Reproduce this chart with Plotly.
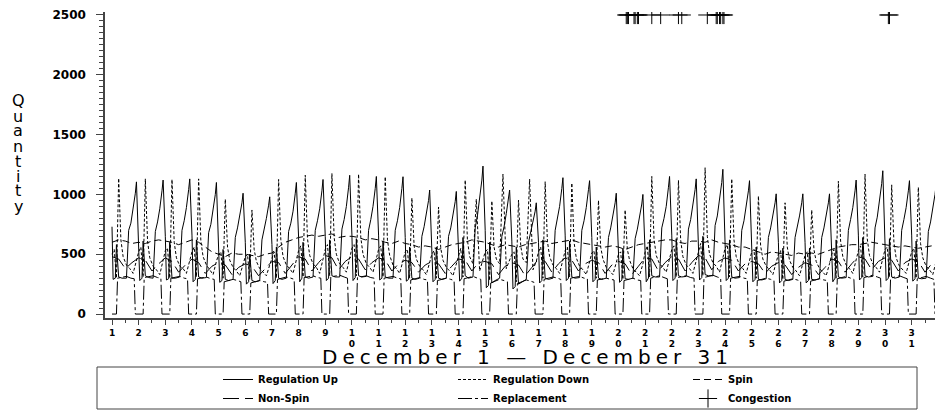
import plotly.graph_objects as go

# Hourly ancillary service quantities, December 1 - December 31
# (a few hours per day)
days = list(range(1, 32))

up_hours = [0, 1, 3, 4, 6, 9, 13, 15, 17, 19, 21, 22]
regulation_up = [
    [730, 290, 300, 580, 310, 300, 300, 700, 760, 870, 1010, 1105],
    [640, 280, 300, 610, 320, 305, 300, 690, 770, 880, 1030, 1120],
    [650, 285, 295, 600, 300, 300, 310, 700, 780, 890, 1040, 1130],
    [660, 270, 290, 620, 310, 300, 305, 680, 750, 860, 1000, 1100],
    [620, 265, 280, 540, 290, 280, 290, 640, 720, 820, 930, 1010],
    [600, 250, 270, 500, 280, 270, 280, 620, 700, 800, 910, 980],
    [580, 255, 280, 560, 300, 290, 300, 690, 760, 860, 1010, 1100],
    [640, 270, 300, 600, 310, 300, 310, 700, 780, 880, 1030, 1125],
    [650, 280, 300, 620, 320, 310, 310, 710, 790, 900, 1060, 1160],
    [660, 280, 305, 630, 320, 310, 315, 700, 790, 900, 1050, 1150],
    [660, 285, 300, 610, 310, 300, 300, 700, 780, 890, 1050, 1148],
    [640, 275, 290, 560, 300, 290, 300, 650, 730, 830, 950, 1037],
    [600, 270, 290, 560, 300, 290, 300, 650, 720, 820, 940, 1025],
    [590, 275, 300, 640, 320, 300, 310, 720, 820, 950, 1120, 1237],
    [700, 220, 240, 600, 260, 280, 300, 650, 730, 840, 960, 1037],
    [610, 210, 230, 560, 250, 270, 290, 600, 680, 760, 860, 930],
    [600, 260, 280, 620, 300, 290, 300, 700, 790, 900, 1050, 1140],
    [660, 280, 300, 610, 310, 300, 305, 700, 780, 890, 1040, 1115],
    [640, 270, 290, 560, 300, 290, 300, 640, 720, 820, 930, 1010],
    [600, 265, 285, 550, 295, 290, 300, 630, 710, 810, 920, 1000],
    [590, 270, 300, 620, 320, 310, 310, 720, 800, 900, 1060, 1150],
    [660, 280, 300, 630, 320, 310, 315, 710, 790, 900, 1040, 1130],
    [650, 285, 305, 650, 330, 320, 320, 740, 820, 940, 1100, 1210],
    [690, 280, 300, 620, 310, 300, 305, 700, 780, 890, 1030, 1115],
    [640, 270, 290, 560, 290, 285, 295, 640, 720, 820, 930, 1005],
    [600, 260, 280, 550, 290, 280, 290, 640, 720, 820, 930, 1005],
    [600, 260, 280, 550, 290, 285, 295, 640, 720, 820, 930, 1005],
    [600, 270, 300, 620, 310, 300, 305, 700, 790, 890, 1030, 1120],
    [660, 285, 305, 640, 320, 310, 315, 720, 810, 930, 1090, 1198],
    [690, 280, 300, 630, 310, 300, 310, 700, 790, 890, 1030, 1115],
    [660, 275, 295, 610, 300, 295, 300, 690, 770, 870, 1000, 1080],
]

down_hours = [0, 2, 4, 5, 6, 8, 10, 13, 16, 19, 22]
regulation_down = [
    [500, 540, 300, 700, 1135, 620, 480, 410, 380, 340, 440],
    [520, 560, 310, 720, 1130, 610, 470, 400, 370, 330, 450],
    [530, 550, 300, 710, 1125, 600, 470, 400, 380, 340, 460],
    [520, 560, 310, 720, 1130, 610, 480, 410, 370, 330, 440],
    [500, 520, 300, 640, 960, 560, 450, 390, 360, 320, 420],
    [480, 500, 290, 600, 870, 540, 440, 380, 350, 320, 410],
    [470, 520, 300, 720, 1125, 620, 480, 410, 380, 340, 450],
    [530, 570, 310, 740, 1160, 630, 490, 420, 390, 340, 460],
    [540, 580, 320, 750, 1175, 640, 500, 420, 390, 350, 470],
    [550, 580, 320, 750, 1170, 640, 500, 420, 390, 350, 460],
    [540, 570, 310, 740, 1148, 620, 490, 410, 380, 340, 450],
    [520, 540, 300, 650, 970, 570, 460, 400, 370, 330, 430],
    [500, 530, 300, 620, 895, 550, 450, 390, 360, 320, 420],
    [500, 550, 310, 730, 1120, 620, 480, 420, 960, 360, 460],
    [520, 540, 280, 640, 945, 560, 460, 420, 1170, 380, 450],
    [500, 520, 270, 650, 953, 570, 460, 430, 1128, 370, 440],
    [520, 560, 300, 720, 1106, 610, 480, 410, 380, 340, 450],
    [530, 560, 310, 710, 1095, 600, 470, 400, 370, 330, 440],
    [510, 530, 300, 640, 950, 560, 460, 390, 360, 330, 430],
    [500, 520, 290, 610, 870, 540, 450, 380, 350, 320, 420],
    [520, 570, 310, 740, 1150, 630, 490, 420, 390, 350, 460],
    [540, 570, 310, 730, 1118, 620, 480, 410, 380, 340, 450],
    [540, 590, 320, 780, 1223, 650, 500, 430, 400, 350, 470],
    [550, 580, 310, 740, 1130, 620, 480, 410, 380, 340, 450],
    [520, 540, 300, 650, 987, 570, 460, 400, 370, 330, 430],
    [500, 530, 290, 630, 930, 560, 450, 390, 360, 320, 420],
    [490, 520, 290, 610, 870, 540, 440, 380, 350, 320, 420],
    [500, 540, 300, 720, 1110, 610, 480, 410, 380, 340, 450],
    [530, 570, 310, 750, 1170, 630, 490, 420, 390, 350, 460],
    [540, 560, 310, 710, 1080, 600, 470, 400, 370, 340, 450],
    [520, 550, 300, 700, 1060, 590, 470, 400, 370, 330, 440],
]

reserve_hours = [0, 6, 12, 18]
spin = [
    [600, 620, 610, 590], [600, 590, 610, 620], [610, 600, 580, 600],
    [620, 600, 560, 520], [500, 480, 510, 500], [500, 490, 480, 500],
    [510, 560, 600, 620], [640, 650, 660, 650], [660, 670, 640, 650],
    [650, 640, 620, 630], [620, 600, 590, 610], [590, 580, 560, 570],
    [560, 540, 560, 580], [590, 600, 620, 610], [600, 580, 560, 580],
    [570, 560, 580, 590], [600, 610, 590, 600], [610, 620, 600, 590],
    [580, 570, 560, 570], [560, 540, 560, 580], [590, 600, 610, 620],
    [620, 600, 590, 610], [610, 600, 620, 600], [590, 580, 560, 560],
    [540, 520, 500, 520], [510, 500, 490, 510], [500, 510, 500, 520],
    [540, 560, 570, 580], [580, 590, 600, 590], [580, 570, 560, 570],
    [560, 550, 560, 570],
]
non_spin = [
    [480, 460, 380, 430], [470, 450, 360, 420], [470, 440, 350, 410],
    [460, 430, 340, 400], [430, 410, 330, 390], [420, 400, 320, 380],
    [440, 430, 340, 410], [480, 460, 360, 430], [490, 470, 370, 440],
    [480, 460, 370, 430], [470, 450, 360, 420], [450, 430, 350, 410],
    [440, 420, 340, 400], [460, 450, 360, 430], [440, 420, 330, 400],
    [430, 410, 320, 390], [460, 440, 350, 420], [470, 450, 360, 420],
    [450, 430, 340, 410], [440, 420, 330, 400], [470, 460, 360, 430],
    [480, 460, 360, 430], [490, 470, 370, 440], [470, 450, 360, 420],
    [440, 420, 340, 400], [430, 410, 330, 390], [430, 410, 330, 390],
    [460, 440, 350, 420], [480, 460, 370, 440], [470, 450, 360, 430],
    [460, 440, 350, 420],
]

repl_hours = [0, 4, 5, 9, 13, 17, 20, 21]
replacement = [
    [0, 0, 300, 305, 315, 300, 295, 0], [0, 0, 305, 310, 320, 305, 300, 0],
    [0, 0, 300, 310, 315, 300, 295, 0], [0, 0, 295, 300, 310, 295, 290, 0],
    [0, 0, 270, 280, 290, 280, 270, 0], [0, 0, 260, 270, 280, 270, 265, 0],
    [0, 0, 290, 300, 310, 300, 290, 0], [0, 0, 305, 310, 320, 305, 300, 0],
    [0, 0, 310, 315, 325, 310, 300, 0], [0, 0, 305, 315, 320, 305, 300, 0],
    [0, 0, 300, 310, 315, 300, 295, 0], [0, 0, 285, 295, 305, 290, 285, 0],
    [0, 0, 280, 290, 300, 290, 280, 0], [0, 0, 295, 305, 315, 300, 290, 0],
    [0, 0, 260, 275, 290, 280, 270, 0], [0, 0, 255, 270, 285, 275, 265, 0],
    [0, 0, 290, 300, 310, 300, 290, 0], [0, 0, 300, 310, 315, 300, 295, 0],
    [0, 0, 285, 295, 300, 290, 285, 0], [0, 0, 280, 290, 300, 285, 280, 0],
    [0, 0, 300, 310, 320, 305, 295, 0], [0, 0, 305, 315, 320, 305, 300, 0],
    [0, 0, 305, 315, 325, 310, 300, 0], [0, 0, 300, 310, 315, 300, 295, 0],
    [0, 0, 280, 290, 300, 290, 280, 0], [0, 0, 275, 285, 295, 285, 275, 0],
    [0, 0, 275, 285, 295, 285, 280, 0], [0, 0, 295, 305, 315, 300, 290, 0],
    [0, 0, 305, 315, 325, 310, 300, 0], [0, 0, 300, 310, 320, 305, 295, 0],
    [0, 0, 295, 305, 315, 300, 290, 0],
]

# hours with congestion, drawn as a row of plus signs at the top
congestion_day = [20, 20, 20, 20, 20, 20, 20, 21, 21, 22, 22,
                  23, 23, 23, 23, 23, 23, 23, 30, 30]
congestion_hour = [7, 8, 9, 14, 15, 17, 18, 6, 14, 6, 9,
                   8, 16, 17, 19, 20, 22, 23, 3, 4]
congestion_level = 2500

tick_days = list(range(1, 33))
tick_text = [str(d) if d < 10 else "<br>".join(str(d)) for d in tick_days]
y_ticks = [0, 500, 1000, 1500, 2000, 2500]


def to_xy(hours, rows):
    xs, ys = [], []
    for d, row in zip(days, rows):
        for h, v in zip(hours, row):
            xs.append(d + h / 24)
            ys.append(v)
    return xs, ys


series = [
    ("Regulation Up", up_hours, regulation_up, "solid"),
    ("Regulation Down", down_hours, regulation_down, "3px,2px"),
    ("Spin", reserve_hours, spin, "7px,4px"),
    ("Non-Spin", reserve_hours, non_spin, "16px,6px"),
    ("Replacement", repl_hours, replacement, "14px,3px,3px,3px"),
]

fig = go.Figure()
for name, hours, rows, dash in series:
    xs, ys = to_xy(hours, rows)
    fig.add_trace(go.Scatter(x=xs, y=ys, mode="lines", name=name,
                             line=dict(color="black", width=1, dash=dash)))

fig.add_trace(go.Scatter(
    x=[d + h / 24 for d, h in zip(congestion_day, congestion_hour)],
    y=[congestion_level] * len(congestion_day),
    mode="markers", name="Congestion",
    marker=dict(symbol="cross-thin", size=13, color="black",
                line=dict(color="black", width=1)),
))

axis_color = "#444444"

fig.update_xaxes(
    range=[0.737, 32.1], tickmode="array", tickvals=tick_days, ticktext=tick_text,
    ticks="outside", ticklen=5, tickwidth=1, tickcolor=axis_color,
    showline=True, linecolor=axis_color, linewidth=1.5, automargin=False,
    showgrid=False, zeroline=False, ticklabeloverflow="allow",
    tickfont=dict(family="DejaVu Sans", size=9, color="black", weight="bold"),
    minor=dict(ticks="outside", ticklen=3, tickcolor=axis_color, tick0=1, dtick=0.5),
)
fig.update_yaxes(
    range=[-33, 2525], tickmode="array", tickvals=y_ticks,
    ticks="outside", ticklen=7, tickwidth=1, tickcolor=axis_color,
    showline=True, linecolor=axis_color, linewidth=1.5, automargin=False,
    showgrid=False, zeroline=False, ticklabelstandoff=8,
    tickfont=dict(family="DejaVu Sans", size=12, color="black", weight="bold"),
    minor=dict(ticks="outside", ticklen=4, tickcolor=axis_color, tick0=0, dtick=50),
)

# the page puts the figure 8 px in from the top-left corner;
# on screen the plot area spans 105..941 px across and 12..318 px down
PAGE = 8
FIG_W, FIG_H = 943, 411
W0, W = 105, 836
H0, H = 12, 306


def px(x):
    return (x - W0) / W


def py(y):
    return (H0 + H - y) / H


annotations = [dict(
    x=px(527), y=py(357), xref="paper", yref="paper", showarrow=False,
    text='<span style="letter-spacing:5px">December 1 — December 31</span>',
    font=dict(family="DejaVu Sans", size=20, color="black"),
    xanchor="center", yanchor="middle",
)]
for i, ch in enumerate("Quantity"):
    annotations.append(dict(
        x=px(18), y=py(101 + 15 * i), xref="paper", yref="paper", showarrow=False,
        text=ch, font=dict(family="DejaVu Sans", size=16, color="black"),
        xanchor="center", yanchor="middle",
    ))

fig.update_layout(
    width=FIG_W, height=FIG_H,
    margin=dict(l=W0 - PAGE, r=FIG_W - (W0 - PAGE) - W, t=H0 - PAGE,
                b=FIG_H - (H0 - PAGE) - H, autoexpand=False),
    paper_bgcolor="white", plot_bgcolor="white",
    showlegend=True,
    legend=dict(
        orientation="h", x=px(218), y=py(365), xanchor="left", yanchor="top",
        entrywidth=190, entrywidthmode="pixels", bgcolor="rgba(0,0,0,0)",
        font=dict(family="DejaVu Sans", size=10, color="black", weight="bold"),
        traceorder="normal",
    ),
    annotations=annotations,
    shapes=[dict(type="rect", xref="paper", yref="paper",
                 x0=px(97), x1=px(917), y0=py(409), y1=py(367),
                 line=dict(color="#444444", width=1))],
)

fig.write_html("out.html")
